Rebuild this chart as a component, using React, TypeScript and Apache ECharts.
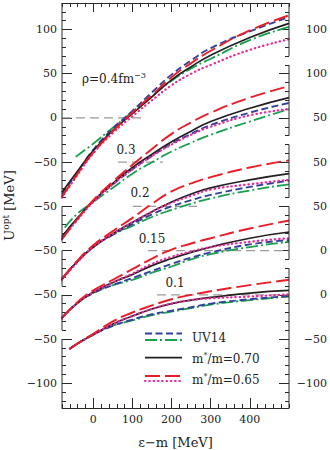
import React, { useEffect, useRef } from "react";
import * as echarts from "echarts";

const X_MIN = -80;
const X_MAX = 500;
const Y_MIN = -328;
const Y_MAX = 130;
const PANEL_SHIFT = 50;

const densityLabels = ["0.4", "0.3", "0.2", "0.15", "0.1"];

// UV14 (blue dashed)
const blue04 = [[-80, -86], [-40, -61], [0, -36], [50, -12], [100, 8], [150, 29], [200, 49], [250, 65], [300, 79], [400, 98], [500, 114]];
const blue03 = [[-80, -85], [-40, -63], [0, -44], [50, -25], [100, -8], [150, 7], [200, 21], [250, 32], [300, 42], [400, 56], [500, 67]];
const blue02 = [[-80, -82], [-40, -62], [0, -46], [50, -32], [100, -20], [150, -9], [200, 0], [250, 7], [300, 13], [400, 22], [500, 29]];
const blue015 = [[-80, -76], [-40, -59], [0, -48], [50, -39], [100, -31], [150, -23], [200, -15], [250, -8], [300, -2], [400, 7], [500, 12]];
const blue01 = [[-60, -61], [-40, -55], [0, -45], [50, -35], [100, -28], [150, -22], [200, -18], [250, -14], [300, -10], [400, -5], [500, -1.5]];

// UV14 (green dash-dot)
const green04 = [[-45, -44], [0, -29], [50, -11], [100, 7], [150, 25], [200, 42], [250, 56], [300, 67], [400, 88], [500, 103]];
const green03 = [[-73, -74], [-40, -58], [0, -45], [50, -29], [100, -13], [150, 0], [200, 12], [250, 22], [300, 31], [400, 46], [500, 60]];
const green02 = [[-80, -82], [-40, -62], [0, -46], [50, -32], [100, -22], [150, -12], [200, -4], [250, 3], [300, 9], [400, 18], [500, 25]];
const green015 = [[-80, -76], [-40, -59], [0, -48], [50, -39], [100, -33], [150, -25], [200, -18], [250, -10], [300, -4], [400, 4], [500, 10]];
const green01 = [[-60, -61], [-40, -55], [0, -45], [50, -35], [100, -29], [150, -23], [200, -19], [250, -15], [300, -11], [400, -6], [500, -2]];

// m*/m = 0.70 (black solid)
const black04 = [[-80, -84], [-40, -60], [0, -37], [50, -14], [100, 5], [150, 24], [200, 43], [250, 58], [300, 71], [400, 91], [500, 107]];
const black03 = [[-80, -84], [-40, -63], [0, -44], [50, -24], [100, -6], [150, 9], [200, 23], [250, 35], [300, 46], [400, 61], [500, 73]];
const black02 = [[-80, -82], [-40, -62], [0, -46], [50, -31], [100, -18], [150, -6], [200, 5], [250, 14], [300, 21], [400, 30], [500, 37]];
const black015 = [[-80, -76], [-40, -59], [0, -47], [50, -36], [100, -27], [150, -17], [200, -9], [250, -2], [300, 4], [400, 14], [500, 21]];
const black01 = [[-60, -61], [-40, -55], [0, -45], [50, -33], [100, -24], [150, -16], [200, -10], [250, -6], [300, -3], [400, 2], [500, 5]];

// m*/m = 0.65 (red long dash)
const red04 = [[-80, -89], [-40, -63], [0, -39], [50, -15], [100, 6], [150, 26], [200, 46], [250, 62], [300, 76], [400, 99], [500, 116]];
const red03 = [[-80, -87], [-40, -64], [0, -43], [50, -22], [100, -3], [150, 15], [200, 32], [250, 45], [300, 56], [400, 73], [500, 86]];
const red02 = [[-80, -82], [-40, -61], [0, -44], [50, -28], [100, -13], [150, 3], [200, 17], [250, 26], [300, 33], [400, 44], [500, 52]];
const red015 = [[-80, -76], [-40, -58], [0, -45], [50, -33], [100, -21], [150, -9], [200, 1], [250, 8], [300, 14], [400, 25], [500, 34]];
const red01 = [[-60, -61], [-40, -55], [0, -44], [50, -30], [100, -20], [150, -12], [200, -5], [250, 0], [300, 4], [400, 11], [500, 17]];

// m*/m = 0.65 (magenta dotted)
const pink04 = [[-80, -90], [-40, -64], [0, -40], [50, -17], [100, 2], [150, 20], [200, 37], [250, 50], [300, 60], [400, 77], [500, 89]];
const pink03 = [[-80, -87], [-40, -65], [0, -45], [50, -25], [100, -8], [150, 7], [200, 20], [250, 31], [300, 40], [400, 53], [500, 60]];
const pink02 = [[-80, -83], [-40, -63], [0, -46], [50, -31], [100, -18], [150, -6], [200, 4], [250, 12], [300, 19], [400, 25], [500, 30]];
const pink015 = [[-80, -77], [-40, -59], [0, -47], [50, -36], [100, -26], [150, -15], [200, -7], [250, -1], [300, 4], [400, 10], [500, 14]];
const pink01 = [[-60, -61], [-40, -55], [0, -45], [50, -33], [100, -24], [150, -16], [200, -10], [250, -6], [300, -4], [400, -2], [500, 0.5]];

// dashed zero lines of each panel (energy range)
const zeroLineRanges = [[-80, 132], [63, 178], [101, 265], [140, 500], [163, 500]];

// axis ticks and labels (in the shifted, stacked coordinate)
const xMajorTicks = [0, 100, 200, 300, 400];
const xTickLabels = ["0", "100", "200", "300", "400"];
const yMajorTicks = [100, 50, 0, -50, -100, -150, -200, -250, -300];
const leftTickLabels = ["100", "50", "0", "\u221250", "\u221250", "\u221250", "\u221250", "\u221250", "\u2212100"];
const rightTickLabels = ["100", "100", "50", "50", "50", "0", "0", "\u221250", "\u2212100"];
const leftAxisSegments = [[-90, 130], [-140, -100], [-190, -150], [-240, -200], [Y_MIN, -250]];
const rightAxisSegments = [[70, 130], [-20, 60], [-90, -30], [-160, -100], [Y_MIN, -170]];

const FONT = "DejaVu Serif";
const AXIS_COLOR = "#2a2a2a";

function stepsIn(lo: number, hi: number, step: number) {
  const out: number[] = [];
  const start = Math.ceil(lo / step) * step;
  for (let v = start; v <= hi + 1e-9; v += step) out.push(v);
  return out;
}

function minorFor(segments: number[][]) {
  const out: number[] = [];
  segments.forEach(([lo, hi]) => {
    stepsIn(lo, Math.min(hi, 120), 10).forEach((v) => out.push(v));
  });
  return out;
}

const curveDefs = [
  { name: "green", color: "#17a04e", type: [12, 3, 2, 3], width: 1.8, cap: "butt", panels: [green04, green03, green02, green015, green01] },
  { name: "blue", color: "#34409c", type: [7, 3.5], width: 1.9, cap: "butt", panels: [blue04, blue03, blue02, blue015, blue01] },
  { name: "black", color: "#231f20", type: "solid", width: 1.7, cap: "butt", panels: [black04, black03, black02, black015, black01] },
  { name: "pink", color: "#e8299a", type: [0.5, 3.8], width: 2.2, cap: "round", panels: [pink04, pink03, pink02, pink015, pink01] },
  { name: "red", color: "#ea1d27", type: [15, 5], width: 1.9, cap: "butt", panels: [red04, red03, red02, red015, red01] },
];

function buildOption() {
  const series: any[] = [];

  zeroLineRanges.forEach(([e1, e2], k) => {
    series.push({
      type: "line",
      name: "zero" + densityLabels[k],
      data: [[e1, -PANEL_SHIFT * k], [e2, -PANEL_SHIFT * k]],
      symbol: "none",
      silent: true,
      z: 1,
      lineStyle: { color: "#9a9a9a", width: 1.3, type: [9, 5] },
    });
  });

  curveDefs.forEach((c, ci) => {
    c.panels.forEach((pts, k) => {
      series.push({
        type: "line",
        name: c.name + densityLabels[k],
        data: pts.map(([e, u]) => [e, u - PANEL_SHIFT * k]),
        symbol: "none",
        smooth: 0.5,
        silent: true,
        z: 2 + ci,
        lineStyle: { color: c.color, width: c.width, type: c.type, cap: c.cap },
      });
    });
  });

  leftAxisSegments.forEach(([lo, hi]) => {
    series.push({
      type: "line",
      data: [[X_MIN, hi], [X_MIN, lo]],
      symbol: "none",
      clip: false,
      silent: true,
      z: 10,
      lineStyle: { color: AXIS_COLOR, width: 1 },
    });
  });
  rightAxisSegments.forEach(([lo, hi]) => {
    series.push({
      type: "line",
      data: [[X_MAX, hi], [X_MAX, lo]],
      symbol: "none",
      clip: false,
      silent: true,
      z: 10,
      lineStyle: { color: AXIS_COLOR, width: 1 },
    });
  });

  const xMinor = stepsIn(X_MIN, X_MAX, 20);
  const leftMinor = minorFor(leftAxisSegments);
  const rightMinor = minorFor(rightAxisSegments);
  const leftMap = new Map<number, string>();
  yMajorTicks.forEach((v, i) => leftMap.set(v, leftTickLabels[i]));
  const rightMap = new Map<number, string>();
  yMajorTicks.forEach((v, i) => rightMap.set(v, rightTickLabels[i]));
  const xMap = new Map<number, string>();
  xMajorTicks.forEach((v, i) => xMap.set(v, xTickLabels[i]));

  const baseX = {
    type: "value",
    min: X_MIN,
    max: X_MAX,
    splitLine: { show: false },
    axisPointer: { show: false },
  };
  const baseY = {
    type: "value",
    min: Y_MIN,
    max: Y_MAX,
    splitLine: { show: false },
    axisPointer: { show: false },
  };

  const labelStyle = { fontFamily: FONT, fontSize: 11, color: "#222" };
  const lineOn = { show: true, onZero: false, lineStyle: { color: AXIS_COLOR, width: 1 } };
  const lineOff = { show: false, onZero: false };

  const xAxis = [
    {
      ...baseX,
      position: "bottom",
      axisLine: lineOn,
      axisTick: { show: true, inside: true, length: 10, customValues: xMajorTicks, lineStyle: { color: AXIS_COLOR } },
      axisLabel: { show: true, customValues: xMajorTicks, margin: 6, formatter: (v: number) => xMap.get(v) ?? "", ...labelStyle },
      name: "\u03b5\u2212m [MeV]",
      nameLocation: "middle",
      nameGap: 28,
      nameTextStyle: { fontFamily: FONT, fontSize: 13, color: "#222" },
    },
    {
      ...baseX,
      position: "bottom",
      axisLine: lineOff,
      axisTick: { show: true, inside: true, length: 4, customValues: xMinor, lineStyle: { color: AXIS_COLOR } },
      axisLabel: { show: false },
    },
    {
      ...baseX,
      position: "top",
      axisLine: lineOn,
      axisTick: { show: true, inside: true, length: 9, customValues: xMajorTicks, lineStyle: { color: AXIS_COLOR } },
      axisLabel: { show: false },
    },
    {
      ...baseX,
      position: "top",
      axisLine: lineOff,
      axisTick: { show: true, inside: true, length: 4, customValues: xMinor, lineStyle: { color: AXIS_COLOR } },
      axisLabel: { show: false },
    },
  ];

  const yAxis = [
    {
      ...baseY,
      position: "left",
      axisLine: lineOff,
      axisTick: { show: true, inside: true, length: 4, customValues: leftMinor, lineStyle: { color: AXIS_COLOR } },
      axisLabel: { show: false },
    },
    {
      ...baseY,
      position: "left",
      axisLine: lineOff,
      axisTick: { show: true, inside: true, length: 10, customValues: yMajorTicks, lineStyle: { color: AXIS_COLOR } },
      axisLabel: { show: true, customValues: yMajorTicks, margin: 5, formatter: (v: number) => leftMap.get(v) ?? "", ...labelStyle },
      name: "{a|U}{s|opt}{a| [MeV]}",
      nameLocation: "middle",
      nameRotate: 90,
      nameGap: 42,
      nameTextStyle: {
        fontFamily: FONT,
        color: "#222",
        rich: {
          a: { fontFamily: FONT, fontSize: 13, color: "#222", lineHeight: 16 },
          s: { fontFamily: FONT, fontSize: 9, color: "#222", lineHeight: 9, verticalAlign: "top" },
        },
      },
    },
    {
      ...baseY,
      position: "right",
      axisLine: lineOff,
      axisTick: { show: true, inside: true, length: 4, customValues: rightMinor, lineStyle: { color: AXIS_COLOR } },
      axisLabel: { show: false },
    },
    {
      ...baseY,
      position: "right",
      axisLine: lineOff,
      axisTick: { show: true, inside: true, length: 10, customValues: yMajorTicks, lineStyle: { color: AXIS_COLOR } },
      axisLabel: { show: true, customValues: yMajorTicks, margin: 38, align: "right", formatter: (v: number) => rightMap.get(v) ?? "", ...labelStyle },
    },
  ];

  const textFill = "#222";
  const richDefs = {
    a: { fontFamily: FONT, fontSize: 12, fill: textFill, color: textFill, lineHeight: 15 },
    s: { fontFamily: FONT, fontSize: 8, fill: textFill, color: textFill, lineHeight: 8, verticalAlign: "top" },
  };

  const graphic: any[] = [
    { type: "text", x: 82, y: 79, z: 20, style: { text: "{a|\u03c1=0.4fm}{s|\u22123}", rich: richDefs, textVerticalAlign: "middle", textAlign: "left" } },
    { type: "text", x: 126, y: 150, z: 20, style: { text: "0.3", font: `12px '${FONT}'`, fill: textFill, textAlign: "center", textVerticalAlign: "middle" } },
    { type: "text", x: 140, y: 193, z: 20, style: { text: "0.2", font: `12px '${FONT}'`, fill: textFill, textAlign: "center", textVerticalAlign: "middle" } },
    { type: "text", x: 152, y: 239, z: 20, style: { text: "0.15", font: `12px '${FONT}'`, fill: textFill, textAlign: "center", textVerticalAlign: "middle" } },
    { type: "text", x: 175, y: 283, z: 20, style: { text: "0.1", font: `12px '${FONT}'`, fill: textFill, textAlign: "center", textVerticalAlign: "middle" } },
  ];

  const legendRows = [
    { c: curveDefs[1], y: 333.5 },
    { c: curveDefs[0], y: 340 },
    { c: curveDefs[2], y: 357.7 },
    { c: curveDefs[4], y: 376 },
    { c: curveDefs[3], y: 381 },
  ];
  legendRows.forEach(({ c, y }) => {
    graphic.push({
      type: "line",
      z: 20,
      shape: { x1: 145, y1: y, x2: 182, y2: y },
      style: {
        stroke: c.color,
        lineWidth: c.width,
        lineDash: c.type === "solid" ? null : c.type,
        lineCap: c.cap,
      },
    });
  });
  const legendTexts = [
    { t: "{a|UV14}", y: 337.5 },
    { t: "{a|m}{s|*}{a|/m=0.70}", y: 358.5 },
    { t: "{a|m}{s|*}{a|/m=0.65}", y: 379.5 },
  ];
  legendTexts.forEach(({ t, y }) => {
    graphic.push({ type: "text", x: 192, y, z: 20, style: { text: t, rich: richDefs, textAlign: "left", textVerticalAlign: "middle" } });
  });

  return {
    animation: false,
    backgroundColor: "#ffffff",
    grid: { left: 62, top: 3, width: 227, height: 405, containLabel: false, outerBoundsMode: "none" },
    xAxis,
    yAxis,
    series,
    graphic,
  };
}

export default function App() {
  const ref = useRef<HTMLDivElement>(null);
  useEffect(() => {
    if (!ref.current) return;
    const chart = echarts.init(ref.current, null, { renderer: "svg" });
    chart.setOption(buildOption() as any);
    return () => chart.dispose();
  }, []);
  return <div ref={ref} style={{ position: "absolute", left: 0, top: 0, width: 330, height: 450 }} />;
}
